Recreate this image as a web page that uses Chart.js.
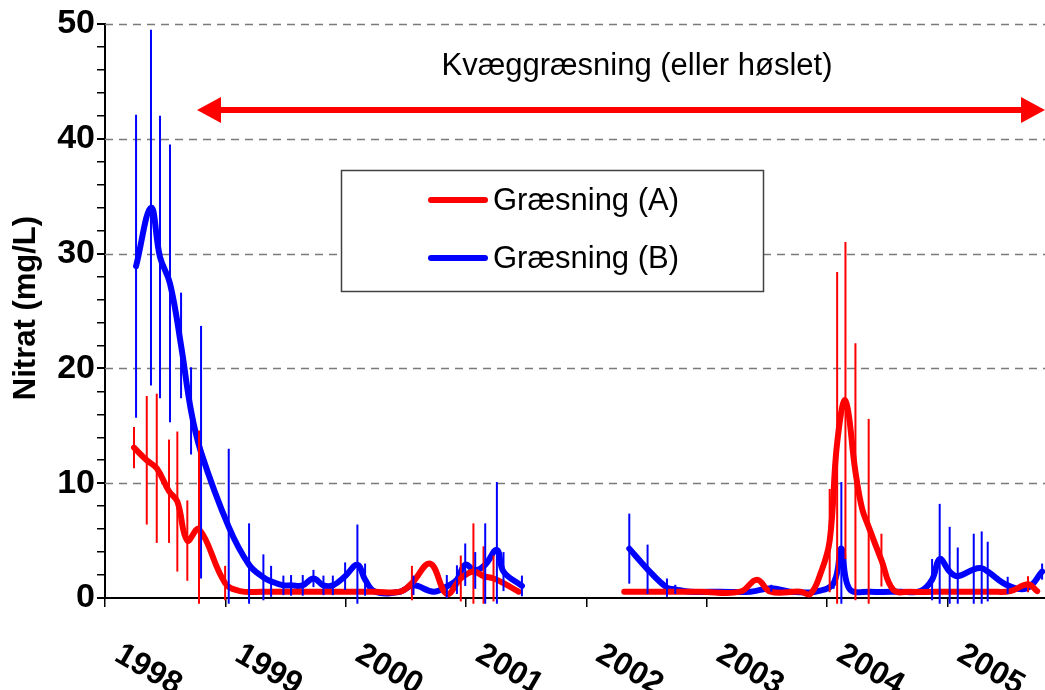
<!DOCTYPE html>
<html>
<head>
<meta charset="utf-8">
<script src="https://cdn.jsdelivr.net/npm/chart.js@4"></script>
<style>
  html, body { margin: 0; padding: 0; background: #fff; }
  #wrap { width: 1045px; height: 690px; position: relative; }
</style>
</head>
<body>
<div id="wrap"><canvas id="myChart"></canvas></div>
<script>
// x axis: years (decimal), tick years and labels
let xTicks = [1998, 1999, 2000, 2001, 2002, 2003, 2004, 2005];
let yearLabels = ['1998','1999','2000','2001','2002','2003','2004','2005'];

// Græsning (A) - red. null = break in the line
let yearsA = [1998.241,1998.347,1998.430,1998.532,1998.601,1998.684,1998.781,1998.998,1999.122,1999.313,
  1999.546,1999.812,2000.095,2000.244,2000.452,2000.550,2000.702,2000.840,2000.956,2001.061,
  2001.145,2001.228,2001.311,2001.436,2001.800,2002.314,2002.613,2002.946,2003.278,2003.417,
  2003.528,2003.777,2003.860,2003.944,2004.021,2004.083,2004.152,2004.235,2004.290,2004.345,2004.451,
  2004.551,2004.692,2005.024,2005.357,2005.523,2005.669,2005.745];
let nitratA = [13.1,12.0,11.3,9.3,8.4,5.0,6.0,1.3,0.6,0.55,
  0.55,0.55,0.55,0.55,0.55,1.3,3.0,0.35,1.7,2.3,
  1.9,1.7,1.3,0.55,null,0.55,0.55,0.55,0.55,1.6,
  0.55,0.55,0.35,2.1,5.0,13.5,17.2,11.0,7.8,6.2,3.3,
  0.7,0.55,0.55,0.55,0.6,1.2,0.6];
let errA = [1.8,5.6,6.5,4.5,6.1,3.5,8.6,1.5,0,0,
  0,0,0,0,0,1.5,0,0,2.0,4.2,
  2.6,2.0,0,0,0,0,0,0,0,0,
  0,0,0,0,4.5,14.9,13.8,11.2,0,9.4,2.3,
  0,0,0,0,0,0.7,0];

// Græsning (B) - blue
let yearsB = [1998.258,1998.382,1998.457,1998.540,1998.632,1998.715,1998.798,1999.028,1999.197,1999.316,
  1999.380,1999.482,1999.546,1999.643,1999.732,1999.815,1999.893,1999.995,2000.097,2000.161,
  2000.244,2000.452,2000.563,2000.729,2000.840,2000.924,2000.993,2001.076,2001.159,2001.256,
  2001.311,2001.464,2001.800,2002.356,2002.508,2002.669,2002.738,2002.863,2003.112,2003.362,
  2003.536,2003.694,2003.902,2004.054,2004.118,2004.185,2004.359,2004.609,2004.775,2004.872,
  2004.935,2005.018,2005.085,2005.218,2005.284,2005.334,2005.500,2005.661,2005.786];
let nitratB = [28.9,34.0,29.7,27.4,22.0,16.3,12.7,6.2,2.9,1.8,
  1.45,1.1,1.1,1.1,1.7,1.1,1.1,1.9,2.9,1.6,
  0.55,0.55,1.1,0.55,1.0,1.6,2.9,2.4,2.9,4.2,
  2.3,1.05,null,4.3,2.5,0.9,0.75,0.55,0.55,0.55,
  0.85,0.55,0.55,1.3,4.3,0.8,0.55,0.55,0.6,1.6,
  3.4,2.3,1.9,2.5,2.6,2.3,1.1,0.85,2.3];
let errB = [13.2,15.5,12.3,12.1,4.6,3.8,11.0,6.8,3.6,2.0,
  1.35,0.85,0.9,0.9,0.75,0.85,0.85,1.2,3.5,1.4,
  0,0,0.85,0,1.0,1.25,1.85,1.6,3.6,5.9,
  1.7,0.9,0,3.05,2.15,0.8,0.4,0,0,0,
  0.3,0,0,0.5,5.8,0,0,0,0,1.8,
  4.8,3.9,2.5,3.1,3.2,2.6,0.75,0,0.7];

let seriesNames = ['Græsning (A)', 'Græsning (B)'];
let colors = ['#ff0000', '#0000ff'];
let errs = [errA, errB];

const FONT = "'Liberation Sans', Arial, sans-serif";

function pts(xs, ys) {
  return xs.map((x, i) => ({ x: x, y: ys[i] }));
}

const extras = {
  id: 'extras',
  beforeDatasetsDraw(chart) {
    const ctx = chart.ctx, area = chart.chartArea, y = chart.scales.y;
    ctx.save();
    ctx.strokeStyle = '#7a7a7a';
    ctx.lineWidth = 1.5;
    ctx.setLineDash([8, 6]);
    [10, 20, 30, 40, 50].forEach(v => {
      const py = Math.round(y.getPixelForValue(v)) + 0.5;
      ctx.beginPath();
      ctx.moveTo(area.left, py);
      ctx.lineTo(area.right, py);
      ctx.stroke();
    });
    ctx.restore();
  },
  afterDatasetsDraw(chart) {
    const ctx = chart.ctx, xs = chart.scales.x, ys = chart.scales.y;
    ctx.save();
    // error bars
    chart.data.datasets.forEach((ds, d) => {
      ctx.strokeStyle = colors[d];
      ctx.lineWidth = 2;
      ds.data.forEach((p, i) => {
        const e = errs[d][i];
        if (p.y == null || !e) return;
        const px = xs.getPixelForValue(p.x);
        const top = ys.getPixelForValue(p.y + e);
        const bot = ys.getPixelForValue(Math.max(p.y - e, -0.5));
        ctx.beginPath();
        ctx.moveTo(px, top);
        ctx.lineTo(px, bot);
        ctx.stroke();
      });
    });
    // legend box
    ctx.fillStyle = '#fff';
    ctx.fillRect(341, 170, 422, 121);
    ctx.strokeStyle = '#404040';
    ctx.lineWidth = 1.5;
    ctx.strokeRect(341.5, 170.5, 422, 121);
    ctx.lineCap = 'round';
    ctx.font = '31px ' + FONT;
    ctx.textBaseline = 'middle';
    ctx.textAlign = 'left';
    [200, 258].forEach((ly, k) => {
      ctx.strokeStyle = colors[k];
      ctx.lineWidth = 6;
      ctx.beginPath();
      ctx.moveTo(431, ly);
      ctx.lineTo(485, ly);
      ctx.stroke();
      ctx.fillStyle = '#000';
      ctx.fillText(seriesNames[k], 493, ly + 1);
    });
    ctx.restore();
  },
  afterDraw(chart) {
    const ctx = chart.ctx, xs = chart.scales.x;
    ctx.save();
    // arrow
    const ay = 110, x0 = 197, x1 = 1045, hl = 24, hh = 13;
    ctx.strokeStyle = '#ff0000';
    ctx.fillStyle = '#ff0000';
    ctx.lineWidth = 6;
    ctx.beginPath();
    ctx.moveTo(x0 + hl - 2, ay);
    ctx.lineTo(x1 - hl + 2, ay);
    ctx.stroke();
    ctx.beginPath();
    ctx.moveTo(x0, ay); ctx.lineTo(x0 + hl, ay - hh); ctx.lineTo(x0 + hl, ay + hh); ctx.closePath();
    ctx.fill();
    ctx.beginPath();
    ctx.moveTo(x1, ay); ctx.lineTo(x1 - hl, ay - hh); ctx.lineTo(x1 - hl, ay + hh); ctx.closePath();
    ctx.fill();
    // annotation
    ctx.fillStyle = '#000';
    ctx.font = '31px ' + FONT;
    ctx.textAlign = 'center';
    ctx.textBaseline = 'middle';
    ctx.fillText('Kvæggræsning (eller høslet)', 637, 66);
    // y title
    ctx.save();
    ctx.translate(26, 308);
    ctx.rotate(-Math.PI / 2);
    ctx.font = 'bold 31px ' + FONT;
    ctx.fillText('Nitrat (mg/L)', 0, 0);
    ctx.restore();
    // rotated year labels
    ctx.font = 'bold 32px ' + FONT;
    xTicks.forEach((yr, i) => {
      const cx = xs.getPixelForValue(yr + 0.5) - 17;
      ctx.save();
      ctx.translate(cx, 670);
      ctx.rotate(30 * Math.PI / 180);
      ctx.fillText(yearLabels[i], 0, 0);
      ctx.restore();
    });
    ctx.restore();
  }
};

function renderChart() {
  let ctx = document.getElementById('myChart');
  new Chart(ctx, {
    type: 'line',
    data: {
      datasets: [
        {
          label: seriesNames[0],
          data: pts(yearsA, nitratA),
          borderColor: colors[0],
          borderWidth: 6,
          pointRadius: 0,
          tension: 0.4,
          borderCapStyle: 'round',
          borderJoinStyle: 'round',
          spanGaps: false,
          fill: false
        },
        {
          label: seriesNames[1],
          data: pts(yearsB, nitratB),
          borderColor: colors[1],
          borderWidth: 6,
          pointRadius: 0,
          tension: 0.4,
          borderCapStyle: 'round',
          borderJoinStyle: 'round',
          spanGaps: false,
          fill: false
        }
      ]
    },
    options: {
      responsive: true,
      maintainAspectRatio: false,
      animation: false,
      layout: { padding: { top: 24, right: 0, left: 0, bottom: 0 } },
      plugins: { legend: { display: false }, tooltip: { enabled: false } },
      scales: {
        x: {
          type: 'linear',
          min: 1998,
          max: 2005.81,
          afterBuildTicks: s => { s.ticks = xTicks.map(v => ({ value: v })); },
          afterFit: s => { s.height = 92; },
          ticks: { display: false },
          grid: { drawOnChartArea: false, color: '#000', lineWidth: 1.5, tickLength: 9 },
          border: { color: '#000', width: 2 }
        },
        y: {
          min: 0,
          max: 50,
          afterFit: s => { s.width = 105; },
          ticks: {
            stepSize: 2,
            autoSkip: false,
            padding: 2,
            color: '#000',
            font: { family: FONT, size: 34, weight: 'bold' },
            callback: v => (v % 10 === 0 ? v : '')
          },
          grid: {
            drawOnChartArea: false,
            color: '#000',
            tickLength: 8,
            lineWidth: c => (c.tick && c.tick.value % 10 === 0 ? 2 : 1.5)
          },
          border: { color: '#000', width: 2 }
        }
      }
    },
    plugins: [extras]
  });
}

renderChart();
</script>
</body>
</html>
